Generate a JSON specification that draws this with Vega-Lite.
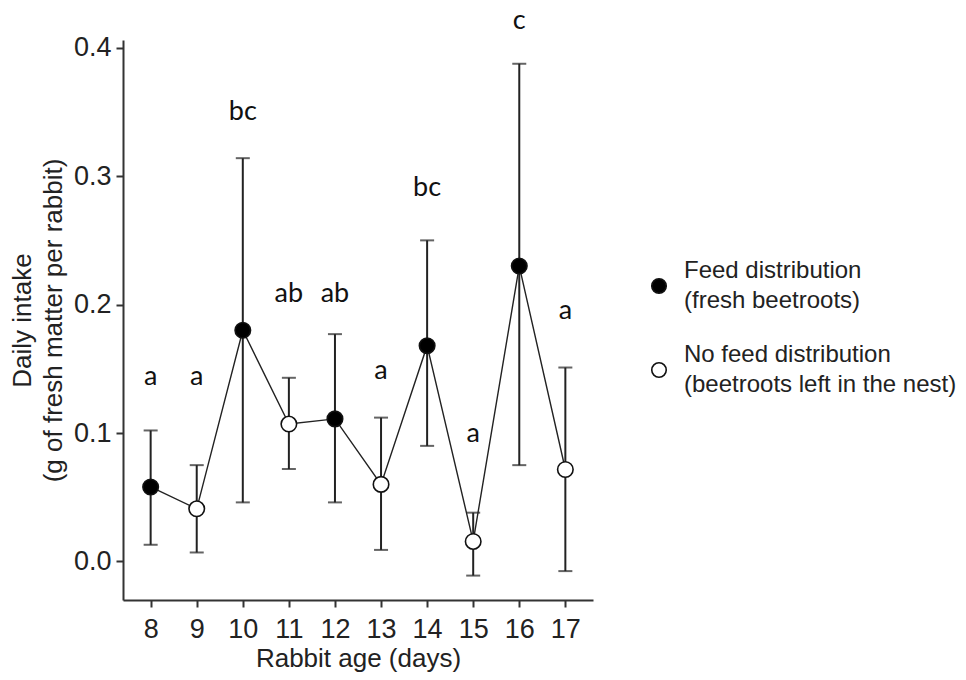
{
  "$schema": "https://vega.github.io/schema/vega-lite/v6.json",
  "width": 470,
  "height": 560,
  "autosize": "none",
  "padding": {"left": 123, "top": 40, "right": 373, "bottom": 80},
  "background": "white",
  "config": {
    "view": {"stroke": null},
    "axis": {
      "grid": false,
      "domainColor": "#333333",
      "domainWidth": 2,
      "tickColor": "#333333",
      "tickWidth": 2,
      "tickSize": 7,
      "labelFont": "Liberation Sans",
      "labelFontSize": 27,
      "labelColor": "#222222",
      "titleFont": "Liberation Sans",
      "titleFontSize": 26,
      "titleFontWeight": "normal",
      "titleColor": "#222222"
    }
  },
  "data": {
    "values": [
      {"day": 8, "group": "Feed distribution", "mean": 0.058, "lo": 0.013, "hi": 0.102, "letter": "a", "letter_y": 0.144},
      {"day": 9, "group": "No feed distribution", "mean": 0.041, "lo": 0.007, "hi": 0.075, "letter": "a", "letter_y": 0.144},
      {"day": 10, "group": "Feed distribution", "mean": 0.180, "lo": 0.046, "hi": 0.314, "letter": "bc", "letter_y": 0.350},
      {"day": 11, "group": "No feed distribution", "mean": 0.107, "lo": 0.072, "hi": 0.143, "letter": "ab", "letter_y": 0.208},
      {"day": 12, "group": "Feed distribution", "mean": 0.111, "lo": 0.046, "hi": 0.177, "letter": "ab", "letter_y": 0.208},
      {"day": 13, "group": "No feed distribution", "mean": 0.060, "lo": 0.009, "hi": 0.112, "letter": "a", "letter_y": 0.148},
      {"day": 14, "group": "Feed distribution", "mean": 0.168, "lo": 0.090, "hi": 0.250, "letter": "bc", "letter_y": 0.291},
      {"day": 15, "group": "No feed distribution", "mean": 0.0156, "lo": -0.011, "hi": 0.038, "letter": "a", "letter_y": 0.0996},
      {"day": 16, "group": "Feed distribution", "mean": 0.230, "lo": 0.075, "hi": 0.3875, "letter": "c", "letter_y": 0.421},
      {"day": 17, "group": "No feed distribution", "mean": 0.0716, "lo": -0.0075, "hi": 0.151, "letter": "a", "letter_y": 0.195}
    ]
  },
  "encoding": {
    "x": {
      "field": "day",
      "type": "quantitative",
      "scale": {"domain": [7.4, 17.6], "nice": false, "zero": false},
      "axis": {"values": [8, 9, 10, 11, 12, 13, 14, 15, 16, 17], "title": "Rabbit age (days)", "labelPadding": 9, "titlePadding": 3}
    }
  },
  "layer": [
    {
      "mark": {"type": "rule", "color": "#222222", "strokeWidth": 2},
      "encoding": {
        "y": {"field": "lo", "type": "quantitative", "scale": {"domain": [-0.03, 0.406], "nice": false, "zero": false},
          "axis": {"values": [0, 0.1, 0.2, 0.3, 0.4], "format": ".1f", "title": ["Daily intake", "(g of fresh matter per rabbit)"], "titleLineHeight": 31, "titlePadding": 7, "labelPadding": 5}},
        "y2": {"field": "hi"}
      }
    },
    {
      "mark": {"type": "tick", "orient": "horizontal", "color": "#222222", "thickness": 2, "size": 14},
      "encoding": {"y": {"field": "lo", "type": "quantitative"}}
    },
    {
      "mark": {"type": "tick", "orient": "horizontal", "color": "#222222", "thickness": 2, "size": 14},
      "encoding": {"y": {"field": "hi", "type": "quantitative"}}
    },
    {
      "mark": {"type": "line", "color": "#222222", "strokeWidth": 1.4},
      "encoding": {"y": {"field": "mean", "type": "quantitative"}}
    },
    {
      "mark": {"type": "point", "shape": "circle", "size": 240, "stroke": "#111111", "strokeWidth": 1.6, "opacity": 1},
      "encoding": {
        "y": {"field": "mean", "type": "quantitative"},
        "fill": {
          "field": "group",
          "type": "nominal",
          "scale": {"domain": ["Feed distribution", "No feed distribution"], "range": ["#000000", "#ffffff"]},
          "legend": {
            "title": null,
            "orient": "none",
            "legendX": 524,
            "legendY": 234,
            "padding": 0,
            "symbolType": "circle",
            "symbolSize": 210,
            "symbolStrokeColor": "#111111",
            "symbolStrokeWidth": 1.6,
            "symbolOpacity": 1,
            "labelFont": "Liberation Sans",
            "labelFontSize": 24,
            "labelColor": "#222222",
            "labelOffset": 13,
            "labelLimit": 400,
            "rowPadding": 30,
            "labelExpr": "datum.label == 'Feed distribution' ? ['Feed distribution', ' (fresh beetroots)'] : ['No feed distribution', ' (beetroots left in the nest)']",
            "encode": {"labels": {"update": {"lineHeight": {"value": 30}, "dy": {"value": -15}}}}
          }
        }
      }
    },
    {
      "mark": {"type": "text", "font": "Lato", "fontSize": 27, "color": "#111111", "baseline": "middle", "align": "center"},
      "encoding": {
        "y": {"field": "letter_y", "type": "quantitative"},
        "text": {"field": "letter", "type": "nominal"}
      }
    }
  ]
}
